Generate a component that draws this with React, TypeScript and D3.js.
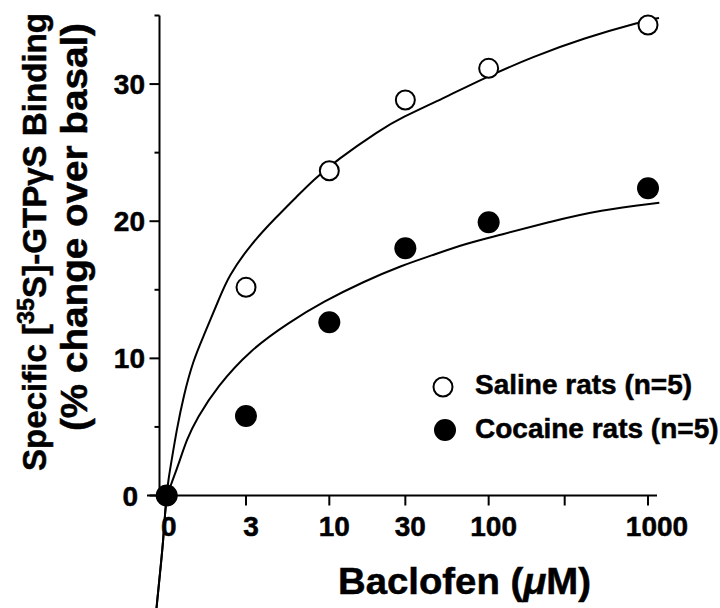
import React from 'react';
import * as d3 from 'd3';

// ---- data ----
const xLabels = ['0', '3', '10', '30', '100', '1000'];
const doses = [0, 3, 10, 30, 100, 1000];
const salineValues = [0, 15.18, 23.68, 28.84, 31.15, 34.31];
const cocaineValues = [0, 5.8, 12.63, 18.03, 19.92, 22.4];

// fitted curves; dose 0 is drawn at ZERO_DOSE on the log axis
const ZERO_DOSE = 0.954;
const lowerFitDose = [0.82, 0.866, 0.908, 0.931, 0.954];
const lowerFitValue = [-8.4, -5.67, -3.24, -1.3, 0];
const salineFitDose = [0.976, 1.025, 1.102, 1.213, 1.401, 1.619, 2.061, 2.323, 3.179, 4.675, 6.242, 7.934, 11.13, 20.8, 27.77, 51.92, 92.56, 190.6, 392.7, 912.9, 1172];
const salineFitValue = [1.13, 2.59, 4.78, 7.2, 9.88, 11.58, 14.5, 15.95, 18.27, 20.33, 21.79, 23.01, 24.46, 26.65, 27.5, 28.96, 30.42, 32.0, 33.34, 34.55, 34.82];
const cocaineFitDose = [1.03, 1.156, 1.27, 1.478, 1.973, 3.179, 5.665, 9.167, 16.34, 29.13, 42.84, 72.83, 117.8, 242.7, 499.8, 1177.6];
const cocaineFitValue = [0.98, 2.59, 4.05, 5.65, 7.93, 10.61, 12.67, 14.13, 15.59, 16.81, 17.46, 18.39, 18.99, 19.97, 20.82, 21.35];

const yMajorTicks = [0, 10, 20, 30];
const yMinorTicks = [5, 15, 25, 35];
const xMinorTicks = [300];

const legendLabels = ['Saline rats (n=5)', 'Cocaine rats (n=5)'];

const FONT = '"Liberation Sans", Arial, Helvetica, sans-serif';

export default function App() {
  const W = 720, H = 608;
  const x = d3.scaleLog().domain([3, 1000]).range([246, 648]);
  const y = d3.scaleLinear().domain([0, 35]).range([495.5, 15.5]);
  const pos = (d: number) => (d === 0 ? x(ZERO_DOSE) : x(d));

  const line = d3
    .line<[number, number]>()
    .x((p) => x(p[0]))
    .y((p) => y(p[1]))
    .curve(d3.curveBasis);

  const lower: [number, number][] = lowerFitDose.map((d, i) => [d, lowerFitValue[i]]);
  const salineFit = lower.concat(salineFitDose.map((d, i) => [d, salineFitValue[i]] as [number, number]));
  const cocaineFit = lower.concat(cocaineFitDose.map((d, i) => [d, cocaineFitValue[i]] as [number, number]));

  const axisX = 159.5;
  const axisY = y(0);
  const textStroke = { stroke: '#000', strokeWidth: 0.5 };

  return (
    <svg width={W} height={H} style={{ position: 'absolute', left: 0, top: 0, background: '#fff' }} fontFamily={FONT} fontWeight="bold">
      <rect x={0} y={0} width={W} height={H} fill="#fff" />
      {/* axes */}
      <line x1={axisX} x2={axisX} y1={y(35)} y2={axisY + 1} stroke="#000" strokeWidth={2} />
      <line x1={147} x2={657} y1={axisY} y2={axisY} stroke="#000" strokeWidth={2} />
      {yMajorTicks.map((t) => (
        <g key={'ym' + t}>
          <line x1={axisX - 10} x2={axisX} y1={y(t)} y2={y(t)} stroke="#000" strokeWidth={2} />
          <text x={t === 0 ? 138 : 145} y={y(t) + 10} textAnchor="end" fontSize={28} {...textStroke}>
            {t}
          </text>
        </g>
      ))}
      {yMinorTicks.map((t) => (
        <line key={'yn' + t} x1={axisX - 5} x2={axisX} y1={y(t)} y2={y(t)} stroke="#000" strokeWidth={2} />
      ))}
      {doses.map((d, i) => (
        <g key={'x' + d}>
          {d !== 0 && <line x1={pos(d)} x2={pos(d)} y1={axisY} y2={axisY + 10} stroke="#000" strokeWidth={2} />}
          <text x={pos(d) + (d === 0 ? 2 : d === 1000 ? 9 : 5)} y={535.5} textAnchor="middle" fontSize={28} {...textStroke}>
            {xLabels[i]}
          </text>
        </g>
      ))}
      {xMinorTicks.map((t) => (
        <line key={'xn' + t} x1={x(t)} x2={x(t)} y1={axisY} y2={axisY + 10} stroke="#000" strokeWidth={2} />
      ))}

      {/* fitted curves */}
      <path d={line(salineFit) || ''} fill="none" stroke="#000" strokeWidth={2} />
      <path d={line(cocaineFit) || ''} fill="none" stroke="#000" strokeWidth={2} />

      {/* points */}
      {doses.map((d, i) => (
        <circle key={'s' + d} cx={pos(d)} cy={y(salineValues[i])} r={9.5} fill="#fff" stroke="#000" strokeWidth={2} />
      ))}
      {doses.map((d, i) => (
        <circle key={'c' + d} cx={pos(d)} cy={y(cocaineValues[i])} r={11} fill="#000" />
      ))}

      {/* legend */}
      <circle cx={443} cy={387} r={9.5} fill="#fff" stroke="#000" strokeWidth={2} />
      <text x={475} y={393.5} fontSize={28} {...textStroke}>{legendLabels[0]}</text>
      <circle cx={445} cy={430} r={11} fill="#000" />
      <text x={475} y={438} fontSize={28} {...textStroke}>{legendLabels[1]}</text>

      {/* axis titles */}
      <text x={464.5} y={594} textAnchor="middle" fontSize={37} textLength={253} lengthAdjust="spacingAndGlyphs" {...textStroke}>
        Baclofen (<tspan fontStyle="italic">μ</tspan>M)
      </text>
      <text transform="translate(46,242) rotate(-90)" textAnchor="middle" fontSize={34} textLength={458} lengthAdjust="spacingAndGlyphs" {...textStroke}>
        Specific [<tspan fontSize={24} dy={-12}>35</tspan>
        <tspan dy={12}>S]-GTPγS Binding</tspan>
      </text>
      <text transform="translate(87,227) rotate(-90)" textAnchor="middle" fontSize={36} textLength={408} lengthAdjust="spacingAndGlyphs" {...textStroke}>
        (% change over basal)
      </text>
    </svg>
  );
}
